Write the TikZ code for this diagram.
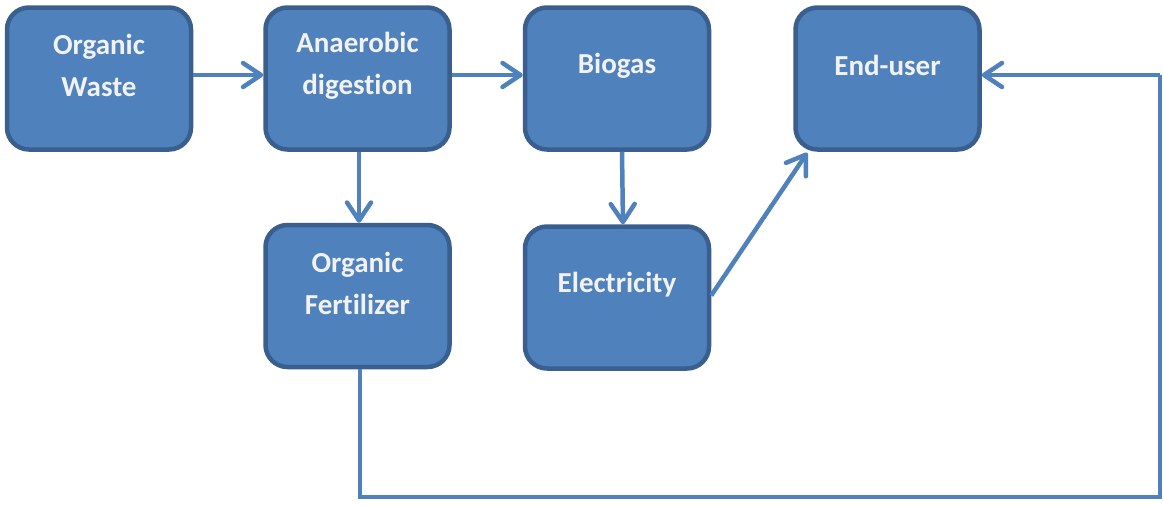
\documentclass[tikz,border=0pt]{standalone}
\usepackage{fontspec}
\setmainfont{Carlito}[Ligatures=NoCommon]
\usetikzlibrary{arrows.meta}
\definecolor{boxfill}{HTML}{4F81BD}
\definecolor{boxline}{HTML}{3A5F8E}
\definecolor{txtcol}{HTML}{F2F2F2}
\tikzset{
  procbox/.style={rectangle, rounded corners=22pt, draw=boxline, fill=boxfill,
    line width=4.5pt, minimum width=184pt, minimum height=142pt, inner sep=0pt},
  proclabel/.style={align=center, text=txtcol, font=\fontsize{29}{42}\selectfont\bfseries},
  flow/.style={draw=boxfill, line width=4.5pt,
    -{Straight Barb[round,length=18pt,width=24pt]}},
  flowplain/.style={draw=boxfill, line width=4.5pt, line join=miter}
}
\begin{document}
\begin{tikzpicture}[x=1pt,y=-1pt]
\useasboundingbox (0,0) rectangle (1163,506);
\node[procbox] (ow) at (99,78.5) {};
\node[procbox] (ad) at (357.5,78.5) {};
\node[procbox] (bg) at (617,78.5) {};
\node[procbox] (eu) at (887.5,78.5) {};
\node[procbox] (of) at (357.5,296) {};
\node[procbox] (el) at (617,297.5) {};
\node[proclabel] (owt) at ([yshift=13pt]ow.center) {Organic\\Waste};
\node[proclabel] (adt) at ([yshift=13pt]ad.center) {Anaerobic\\digestion};
\node[proclabel] (bgt) at ([yshift=13pt]bg.center) {Biogas};
\node[proclabel] (eut) at ([yshift=13pt]eu.center) {End-user};
\node[proclabel] (oft) at ([yshift=13pt]of.center) {Organic\\Fertilizer};
\node[proclabel] (elt) at ([yshift=13pt]el.center) {Electricity};
\draw[flow] ([yshift=3.5pt]ow.east) -- ([yshift=3.5pt]ad.west);
\draw[flow] ([yshift=3.5pt]ad.east) -- ([yshift=3.5pt]bg.west);
\draw[flow] ([xshift=1.5pt]ad.south) -- ([xshift=1.5pt]of.north);
\draw[flow] ([xshift=5pt]bg.south) -- ([xshift=6pt]el.north);
\draw[flow] ([yshift=2pt]el.east) -- ([xshift=14pt,yshift=-1pt]eu.south west);
\coordinate (c1) at (360,497);
\coordinate (c2) at (1160,497);
\coordinate (c3) at (1160,75);
\draw[flowplain] ([xshift=2.5pt]of.south) -- (c1) -- (c2) -- (c3);
\draw[flow] (c3) -- (c3 -| eu.east);
\end{tikzpicture}
\end{document}
